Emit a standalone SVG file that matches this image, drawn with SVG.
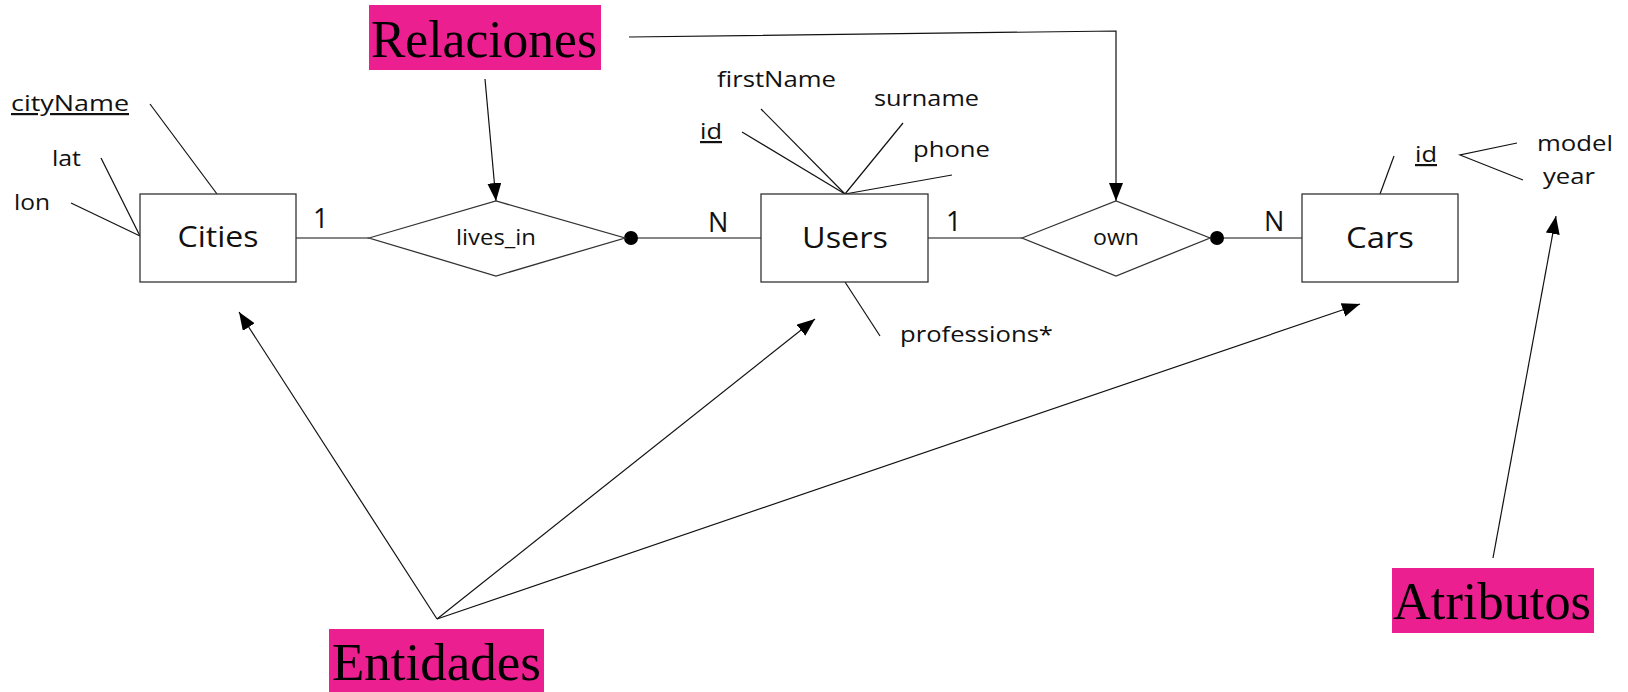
<svg xmlns="http://www.w3.org/2000/svg" width="1628" height="692" viewBox="0 0 1628 692">
<style>
.box{fill:#fff;stroke:#333;stroke-width:1.3}
.ln{fill:none;stroke:#111;stroke-width:1.2}
.t{font-family:"Open Sans","Liberation Sans",sans-serif;fill:#111}
.ent{font-size:30px;text-anchor:middle}
.att{font-size:22px}
.card{font-size:27px}
.rel{font-size:21px;text-anchor:middle}
.tag{fill:#EB1F8F}
.big{font-family:"Liberation Serif","DejaVu Serif",serif;font-size:52px;fill:#000}
.u{text-decoration:underline}
</style>
<defs>
<marker id="ah" markerUnits="userSpaceOnUse" markerWidth="20" markerHeight="16" refX="18" refY="7" orient="auto">
<path d="M0,0 L18,7 L0,14 z" fill="#000"/>
</marker>
</defs>

<g id="connectors">
<line class="ln" x1="296" y1="238" x2="369" y2="238"/>
<line class="ln" x1="631" y1="238" x2="761" y2="238"/>
<line class="ln" x1="928" y1="238" x2="1022" y2="238"/>
<line class="ln" x1="1217" y1="238" x2="1302" y2="238"/>
<circle cx="631" cy="238" r="7" fill="#000"/>
<circle cx="1217" cy="238" r="7" fill="#000"/>
<line class="ln" x1="150" y1="104" x2="217" y2="194"/>
<line class="ln" x1="101" y1="158" x2="140" y2="236"/>
<line class="ln" x1="71" y1="203" x2="140" y2="236"/>
<line class="ln" x1="742" y1="132" x2="845" y2="194"/>
<line class="ln" x1="761" y1="109" x2="845" y2="194"/>
<line class="ln" x1="903" y1="123" x2="845" y2="194"/>
<line class="ln" x1="952" y1="175" x2="845" y2="194"/>
<line class="ln" x1="845" y1="282" x2="880" y2="336"/>
<line class="ln" x1="1380" y1="194" x2="1394" y2="156"/>
<polyline class="ln" points="1517,143 1460,155 1523,180"/>
<polyline class="ln" points="629,37 1116,31 1116,201" marker-end="url(#ah)"/>
<line class="ln" x1="485" y1="79" x2="496" y2="201" marker-end="url(#ah)"/>
<line class="ln" x1="437" y1="619" x2="239" y2="312" marker-end="url(#ah)"/>
<line class="ln" x1="437" y1="619" x2="815" y2="319" marker-end="url(#ah)"/>
<line class="ln" x1="437" y1="619" x2="1360" y2="304" marker-end="url(#ah)"/>
<line class="ln" x1="1493" y1="558" x2="1556" y2="216" marker-end="url(#ah)"/>
</g>

<g id="cities">
<rect class="box" x="140" y="194" width="156" height="88"/>
<text class="t ent" x="218" y="247" textLength="81" lengthAdjust="spacingAndGlyphs">Cities</text>
</g>
<g id="users">
<rect class="box" x="761" y="194" width="167" height="88"/>
<text class="t ent" x="845" y="248" textLength="86" lengthAdjust="spacingAndGlyphs">Users</text>
</g>
<g id="cars">
<rect class="box" x="1302" y="194" width="156" height="88"/>
<text class="t ent" x="1380" y="248" textLength="68" lengthAdjust="spacingAndGlyphs">Cars</text>
</g>
<g id="lives_in">
<polygon class="box" points="369,238 496,201 625,238 496,276"/>
<text class="t rel" x="496" y="245" textLength="80" lengthAdjust="spacingAndGlyphs">lives_in</text>
</g>
<g id="own">
<polygon class="box" points="1022,238 1116,201 1210,238 1116,276"/>
<text class="t rel" x="1116" y="245" textLength="46" lengthAdjust="spacingAndGlyphs">own</text>
</g>

<g id="cardinalities">
<text class="t card" x="313" y="228">1</text>
<text class="t card" x="708" y="232">N</text>
<text class="t card" x="946" y="231">1</text>
<text class="t card" x="1264" y="231">N</text>
</g>

<g id="attributes">
<text class="t att u" x="11" y="111" textLength="118" lengthAdjust="spacingAndGlyphs">cityName</text>
<text class="t att" x="52" y="166" textLength="29" lengthAdjust="spacingAndGlyphs">lat</text>
<text class="t att" x="14" y="210" textLength="36" lengthAdjust="spacingAndGlyphs">lon</text>
<text class="t att u" x="700" y="139" textLength="22" lengthAdjust="spacingAndGlyphs">id</text>
<text class="t att" x="717" y="87" textLength="119" lengthAdjust="spacingAndGlyphs">firstName</text>
<text class="t att" x="874" y="106" textLength="105" lengthAdjust="spacingAndGlyphs">surname</text>
<text class="t att" x="913" y="157" textLength="77" lengthAdjust="spacingAndGlyphs">phone</text>
<text class="t att" x="900" y="342" textLength="153" lengthAdjust="spacingAndGlyphs">professions*</text>
<text class="t att u" x="1415" y="162" textLength="22" lengthAdjust="spacingAndGlyphs">id</text>
<text class="t att" x="1537" y="151" textLength="76" lengthAdjust="spacingAndGlyphs">model</text>
<text class="t att" x="1543" y="184" textLength="52" lengthAdjust="spacingAndGlyphs">year</text>
</g>

<g id="relaciones">
<rect class="tag" x="369" y="5" width="232" height="65"/>
<text class="big" x="371" y="57" textLength="226" lengthAdjust="spacingAndGlyphs">Relaciones</text>
</g>
<g id="entidades">
<rect class="tag" x="329" y="629" width="215" height="63"/>
<text class="big" x="332" y="680" textLength="209" lengthAdjust="spacingAndGlyphs">Entidades</text>
</g>
<g id="atributos">
<rect class="tag" x="1392" y="568" width="202" height="65"/>
<text class="big" x="1393" y="619" textLength="198" lengthAdjust="spacingAndGlyphs">Atributos</text>
</g>
</svg>
